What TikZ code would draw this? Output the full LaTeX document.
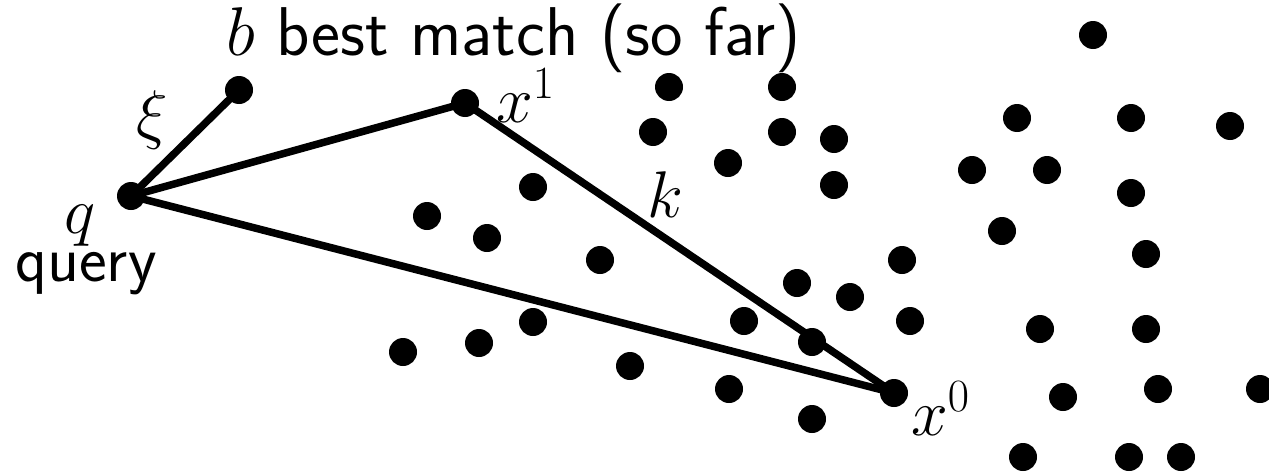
\RequirePackage{fix-cm}
\documentclass[tikz,border=0pt]{standalone}
\begin{document}
\begin{tikzpicture}[x=1pt,y=-1pt,
  dot/.style={circle,fill=black,inner sep=0pt,minimum size=28pt},
  edge/.style={line width=7.5pt,black},
  lbl/.style={inner sep=0pt,font=\fontsize{66}{78}\selectfont\sffamily}]
\useasboundingbox (0,0) rectangle (1269,474);
% key points
\node[dot] (q) at (131,196) {};
\node[dot] (b) at (239,90) {};
\node[dot] (x1) at (465,103) {};
\node[dot] (x0) at (894,393) {};
\node[dot] (m) at (812,342) {};
% other points
\foreach \px/\py [count=\i] in {1093/35, 669/87, 782/87, 653/132, 782/132, 834/139,
  1017/118, 1131/118, 1230/126, 728/163, 972/170, 1047/170, 1131/193,
  533/187, 834/185, 427/216, 487/238, 1002/231, 600/260, 902/260, 1146/254,
  797/283, 850/297, 533/322, 744/321, 910/321, 1040/329, 1146/329,
  403/352, 479/343, 630/366, 729/389, 1063/397, 1158/389, 1260/389,
  812/419, 1023/457, 1129/457, 1181/457}
  \node[dot] (p\i) at (\px,\py) {};
% connectors
\draw[edge] (q.center) -- (b.center);
\draw[edge] (q.center) -- (x1.center);
\draw[edge] (q.center) -- (x0.center);
\draw[edge] (x1.center) -- (x0.center);
% labels
\node[lbl,anchor=base west,font=\fontsize{69}{80}\selectfont\sffamily] (title) at (226,55) {$b$ best match (so far)};
\node[lbl] (xi) at (152,120) {$\xi$};
\node[lbl,anchor=base] (ql) at (80,233) {$q$};
\node[lbl,anchor=base] (query) at (86,281) {query};
\node[lbl,anchor=base west] (x1l) at (496,122) {$x^1$};
\node[lbl,anchor=base west] (kl) at (647,217) {$k$};
\node[lbl,anchor=base west] (x0l) at (911,435) {$x^0$};
\end{tikzpicture}
\end{document}
